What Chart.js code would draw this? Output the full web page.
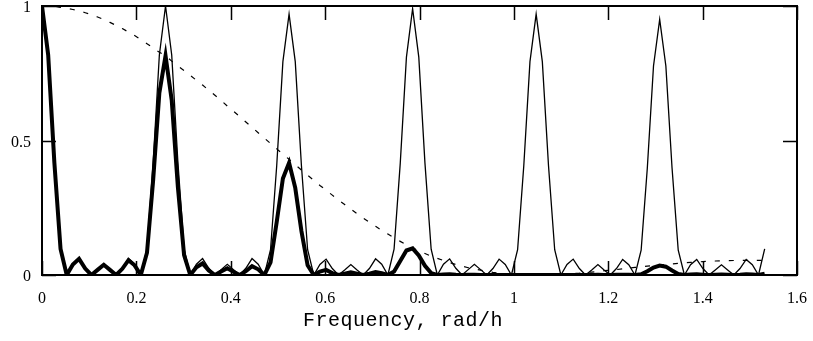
<!DOCTYPE html>
<html>
<head>
<meta charset="utf-8">
<title>Spectral window</title>
<script src="https://cdn.jsdelivr.net/npm/chart.js@4.4.1/dist/chart.umd.min.js"></script>
<style>
  html, body { margin: 0; padding: 0; background: #fff; }
  canvas { display: block; }
</style>
</head>
<body>
<canvas id="chart" width="813" height="341"></canvas>
<script>
// frequency grid, rad/h
const freq = [
  0, 0.0131, 0.0262, 0.0393, 0.0524, 0.0654, 0.0785, 0.0916, 0.1047, 0.1178,
  0.1309, 0.1440, 0.1571, 0.1702, 0.1833, 0.1963, 0.2094, 0.2225, 0.2356, 0.2487,
  0.2618, 0.2749, 0.2880, 0.3011, 0.3142, 0.3272, 0.3403, 0.3534, 0.3665, 0.3796,
  0.3927, 0.4058, 0.4189, 0.4320, 0.4451, 0.4581, 0.4712, 0.4843, 0.4974, 0.5105,
  0.5236, 0.5367, 0.5498, 0.5629, 0.5760, 0.5890, 0.6021, 0.6152, 0.6283, 0.6414,
  0.6545, 0.6676, 0.6807, 0.6938, 0.7069, 0.7199, 0.7330, 0.7461, 0.7592, 0.7723,
  0.7854, 0.7985, 0.8116, 0.8247, 0.8378, 0.8508, 0.8639, 0.8770, 0.8901, 0.9032,
  0.9163, 0.9294, 0.9425, 0.9556, 0.9687, 0.9817, 0.9948, 1.0079, 1.0210, 1.0341,
  1.0472, 1.0603, 1.0734, 1.0865, 1.0996, 1.1126, 1.1257, 1.1388, 1.1519, 1.1650,
  1.1781, 1.1912, 1.2043, 1.2174, 1.2305, 1.2435, 1.2566, 1.2697, 1.2828, 1.2959,
  1.3090, 1.3221, 1.3352, 1.3483, 1.3614, 1.3744, 1.3875, 1.4006, 1.4137, 1.4268,
  1.4399, 1.4530, 1.4661, 1.4792, 1.4923, 1.5053, 1.5184, 1.5315
];

// thin line: window of the daily sampling
const windowPower = [
  1.000, 0.818, 0.419, 0.097, 0, 0.040, 0.061, 0.025, 0, 0.020,
  0.040, 0.020, 0, 0.025, 0.061, 0.040, 0, 0.097, 0.419, 0.818,
  1.000, 0.818, 0.419, 0.097, 0, 0.040, 0.061, 0.025, 0, 0.020,
  0.040, 0.020, 0, 0.025, 0.061, 0.040, 0, 0.094, 0.406, 0.793,
  0.970, 0.793, 0.406, 0.094, 0, 0.039, 0.059, 0.024, 0, 0.019,
  0.039, 0.019, 0, 0.024, 0.060, 0.040, 0, 0.096, 0.415, 0.810,
  0.990, 0.810, 0.415, 0.096, 0, 0.040, 0.060, 0.025, 0, 0.020,
  0.040, 0.020, 0, 0.024, 0.059, 0.039, 0, 0.094, 0.406, 0.793,
  0.970, 0.793, 0.406, 0.094, 0, 0.039, 0.059, 0.024, 0, 0.019,
  0.039, 0.019, 0, 0.024, 0.058, 0.038, 0, 0.092, 0.398, 0.777,
  0.950, 0.777, 0.398, 0.092, 0, 0.038, 0.058, 0.024, 0, 0.019,
  0.038, 0.019, 0, 0.024, 0.058, 0.038, 0, 0.097
];

// thick line: window after the averaging filter
const filteredPower = [
  1.000, 0.818, 0.418, 0.097, 0, 0.039, 0.060, 0.024, 0, 0.019,
  0.038, 0.019, 0, 0.023, 0.055, 0.036, 0, 0.083, 0.354, 0.677,
  0.815, 0.650, 0.326, 0.074, 0, 0.029, 0.043, 0.017, 0, 0.013,
  0.025, 0.012, 0, 0.014, 0.033, 0.021, 0, 0.047, 0.197, 0.359,
  0.417, 0.324, 0.163, 0.036, 0, 0.013, 0.019, 0.007, 0, 0.005,
  0.010, 0.005, 0, 0.005, 0.011, 0.007, 0, 0.013, 0.052, 0.091,
  0.099, 0.073, 0.034, 0.007, 0, 0.002, 0.003, 0.001, 0, 0.001,
  0.001, 0, 0, 0, 0, 0, 0, 0, 0, 0,
  0, 0, 0, 0, 0, 0, 0, 0, 0, 0,
  0.001, 0, 0, 0.001, 0.001, 0.001, 0, 0.003, 0.014, 0.028,
  0.035, 0.031, 0.017, 0.004, 0, 0.002, 0.003, 0.001, 0, 0.001,
  0.002, 0.001, 0, 0.001, 0.003, 0.002, 0, 0.005
];

// dashed line: filter response
const filterGain = [
  1.000, 0.999, 0.998, 0.995, 0.992, 0.987, 0.982, 0.975, 0.968, 0.959,
  0.950, 0.939, 0.928, 0.916, 0.903, 0.890, 0.875, 0.860, 0.844, 0.828,
  0.815, 0.795, 0.777, 0.760, 0.742, 0.724, 0.706, 0.687, 0.668, 0.649,
  0.628, 0.609, 0.589, 0.569, 0.549, 0.529, 0.509, 0.489, 0.469, 0.449,
  0.430, 0.410, 0.390, 0.371, 0.352, 0.333, 0.315, 0.297, 0.279, 0.262,
  0.245, 0.228, 0.212, 0.196, 0.181, 0.166, 0.152, 0.138, 0.125, 0.112,
  0.100, 0.090, 0.080, 0.070, 0.062, 0.054, 0.046, 0.039, 0.033, 0.027,
  0.022, 0.018, 0.014, 0.010, 0.007, 0.005, 0.003, 0.002, 0.001, 0.000,
  0.000, 0.000, 0.001, 0.002, 0.003, 0.004, 0.006, 0.007, 0.009, 0.011,
  0.013, 0.016, 0.018, 0.020, 0.023, 0.025, 0.028, 0.030, 0.033, 0.035,
  0.037, 0.039, 0.041, 0.043, 0.045, 0.047, 0.048, 0.050, 0.051, 0.052,
  0.053, 0.053, 0.054, 0.054, 0.054, 0.054, 0.054, 0.054
];

const xTicks = [0, 0.2, 0.4, 0.6, 0.8, 1, 1.2, 1.4, 1.6];
const yTicks = [0, 0.5, 1];
const xTitle = 'Frequency, rad/h';

const toPoints = ys => freq.map((f, i) => ({ x: f, y: ys[i] }));
const tickText = v => String(Number(v.toFixed(1)));

// box around the plot, inward ticks on all four sides, axis title
const framePlugin = {
  id: 'frame',
  afterDraw(chart) {
    const { ctx, chartArea: a, scales: { x, y } } = chart;
    ctx.save();
    ctx.strokeStyle = '#000';
    ctx.lineWidth = 2;
    ctx.strokeRect(a.left, a.top, a.right - a.left, a.bottom - a.top);

    ctx.lineWidth = 1.5;
    ctx.beginPath();
    xTicks.forEach(v => {
      const px = Math.round(x.getPixelForValue(v)) + 0.5;
      ctx.moveTo(px, a.top); ctx.lineTo(px, a.top + 14);
      ctx.moveTo(px, a.bottom); ctx.lineTo(px, a.bottom - 14);
    });
    yTicks.forEach(v => {
      const py = Math.round(y.getPixelForValue(v)) + 0.5;
      ctx.moveTo(a.left, py); ctx.lineTo(a.left + 14, py);
      ctx.moveTo(a.right, py); ctx.lineTo(a.right - 14, py);
    });
    ctx.stroke();

    ctx.fillStyle = '#000';
    ctx.font = '20px "Liberation Mono"';
    ctx.letterSpacing = '0.5px';
    ctx.textAlign = 'center';
    ctx.textBaseline = 'alphabetic';
    ctx.fillText(xTitle, 403, 326);
    ctx.restore();
  }
};

new Chart(document.getElementById('chart'), {
  type: 'line',
  data: {
    datasets: [
      {
        data: toPoints(filteredPower),
        borderColor: '#000',
        borderWidth: 4,
        pointRadius: 0,
        tension: 0
      },
      {
        data: toPoints(windowPower),
        borderColor: '#000',
        borderWidth: 1.3,
        pointRadius: 0,
        tension: 0
      },
      {
        data: toPoints(filterGain),
        borderColor: '#000',
        borderWidth: 1.2,
        borderDash: [5, 9],
        pointRadius: 0,
        tension: 0
      }
    ]
  },
  options: {
    responsive: false,
    devicePixelRatio: 1,
    animation: false,
    layout: { padding: { top: 6, right: 16, left: 0, bottom: 0 } },
    plugins: { legend: { display: false }, tooltip: { enabled: false } },
    scales: {
      x: {
        type: 'linear',
        min: 0,
        max: 1.6,
        afterBuildTicks: s => { s.ticks = xTicks.map(v => ({ value: v })); },
        afterFit: s => { s.height = 66; s.paddingLeft = 0; s.paddingRight = 0; },
        grid: { display: false, drawTicks: false },
        border: { display: false },
        ticks: {
          color: '#000',
          padding: 14,
          maxRotation: 0,
          font: { family: '"Liberation Serif"', size: 16 },
          callback: tickText
        }
      },
      y: {
        type: 'linear',
        min: 0,
        max: 1,
        afterBuildTicks: s => { s.ticks = yTicks.map(v => ({ value: v })); },
        afterFit: s => { s.width = 42; s.paddingTop = 0; s.paddingBottom = 0; },
        grid: { display: false, drawTicks: false },
        border: { display: false },
        ticks: {
          color: '#000',
          padding: 11,
          labelOffset: 2,
          font: { family: '"Liberation Serif"', size: 16 },
          callback: tickText
        }
      }
    }
  },
  plugins: [framePlugin]
});
</script>
</body>
</html>
